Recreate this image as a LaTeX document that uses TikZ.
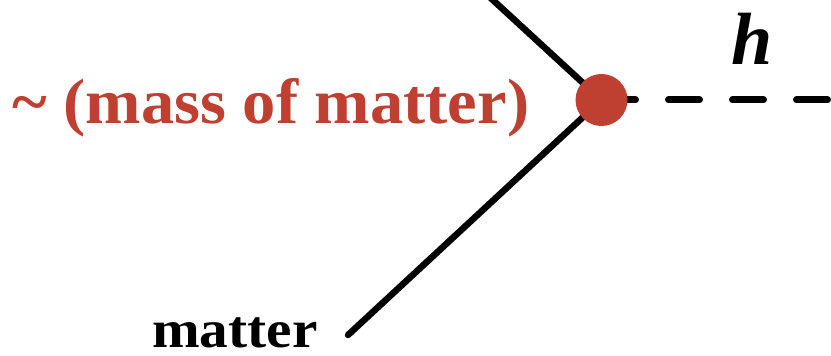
\documentclass[tikz,border=0pt]{standalone}
\usepackage{fontspec}
\setmainfont{Liberation Serif}
\usepackage{xcolor}
\usepackage{tikz}
\definecolor{ink}{HTML}{000000}
\definecolor{massred}{HTML}{BF3F31}

\begin{document}
\begin{tikzpicture}[x=1pt,y=1pt,
 fermion/.style={ink,line width=6.5pt,line cap=round},
 scalar/.style={ink,line width=7pt,line cap=round,dash pattern=on 31pt off 33pt,dash phase=61pt},
 lbl/.style={inner sep=0pt,anchor=base west}]
 \useasboundingbox (0,0) rectangle (831,356);
 \clip (0,0) rectangle (831,356);
 \coordinate (v) at (601.5,256);
 \coordinate (qin) at (482,366);
 \coordinate (qout) at (348,21);
 \coordinate (hend) at (833,256);
 \draw[fermion] (qin)--(v);
 \draw[fermion] (v)--(qout);
 \draw[scalar] (v)--(hend);
 \node[circle,fill=massred,minimum size=52pt,inner sep=0pt] (vtx) at (v) {};
 \node[lbl,massred,font=\fontsize{64}{72}\selectfont\bfseries\addfontfeature{FakeStretch=1.04}] (coupling) at (12,232) {\textasciitilde{} (mass of matter)};
 \node[lbl,font=\fontsize{53}{60}\selectfont\bfseries\addfontfeature{FakeStretch=1.08}] (matter) at (152,8) {matter};
 \node[lbl,font=\fontsize{74}{80}\selectfont\bfseries\itshape] (higgs) at (731,291) {h};
\end{tikzpicture}
\end{document}
